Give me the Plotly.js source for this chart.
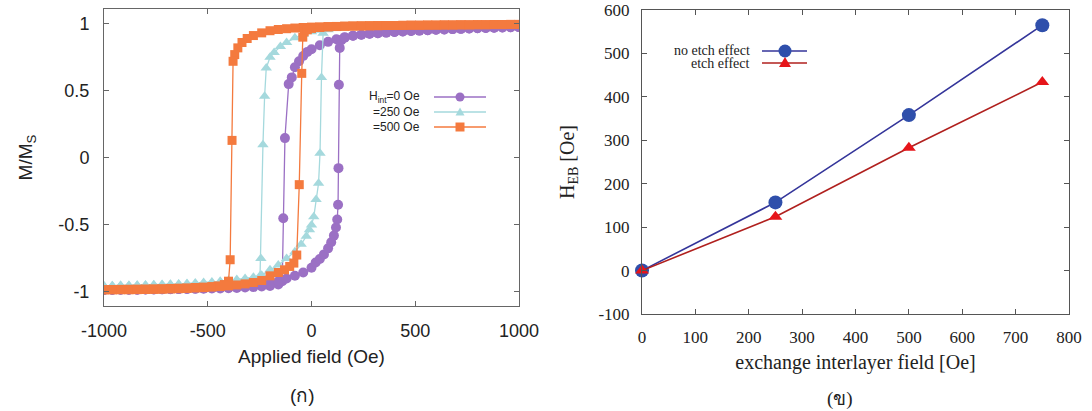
<!DOCTYPE html>
<html>
<head>
<meta charset="utf-8">
<script src="https://cdn.plot.ly/plotly-3.0.1.min.js"></script>
<style>html,body{margin:0;padding:0;background:#fff;}#chart{width:1092px;height:411px;}</style>
</head>
<body>
<div id="chart"></div>
<script>
// ---------- Left panel: hysteresis loops (descending branch then ascending branch) ----------
const field0 = [1000,960,920,880,840,800,760,720,680,640,600,560,520,480,440,400,360,320,280,240,
  200,160,120,80,40,0,-20,-40,-60,-80,-95,-110,-128,-136,-141,-160,
  -200,-240,-280,-320,-360,-400,-440,-480,-520,-560,-600,-640,-680,-720,-760,-800,-840,-880,-920,-960,-1000,
  -1000,-960,-920,-880,-840,-800,-760,-720,-680,-640,-600,-560,-520,-480,-440,-400,-360,-320,-280,-240,
  -200,-160,-120,-80,-40,0,20,40,60,80,95,108,118,124,128,130,132,136,145,160,
  200,240,280,320,360,400,440,480,520,560,600,640,680,720,760,800,840,880,920,960,1000];
const m0 = [.975,.974,.972,.97,.968,.966,.964,.962,.96,.957,.955,.952,.949,.946,.942,.938,.934,.93,.925,.918,
  .91,.9,.885,.865,.84,.81,.79,.76,.72,.675,.6,.55,.147,-.45,-.92,-.945,
  -.955,-.96,-.964,-.967,-.97,-.972,-.974,-.975,-.976,-.977,-.978,-.979,-.98,-.981,-.982,-.982,-.983,-.983,-.984,-.984,-.985,
  -.985,-.985,-.984,-.984,-.983,-.982,-.981,-.98,-.979,-.978,-.977,-.975,-.973,-.971,-.968,-.965,-.961,-.956,-.95,-.943,
  -.935,-.92,-.9,-.88,-.855,-.82,-.78,-.755,-.72,-.675,-.63,-.58,-.52,-.46,-.35,-.077,.545,.82,.88,.895,
  .91,.918,.925,.93,.934,.938,.942,.946,.949,.952,.955,.957,.96,.962,.964,.966,.968,.97,.972,.974,.975];

const field250 = [1000,960,920,880,840,800,760,720,680,640,600,560,520,480,440,400,360,320,280,240,200,160,120,80,
  40,0,-40,-80,-120,-150,-180,-200,-218,-226,-234,-244,-248,
  -280,-320,-360,-400,-440,-480,-520,-560,-600,-640,-680,-720,-760,-800,-840,-880,-920,-960,-1000,
  -1000,-960,-920,-880,-840,-800,-760,-720,-680,-640,-600,-560,-520,-480,-440,-400,-360,-320,-280,-240,-200,-160,
  -120,-80,-50,-25,-10,0,11,22,34,41,48,56,
  80,120,160,200,240,280,320,360,400,440,480,520,560,600,640,680,720,760,800,840,880,920,960,1000];
const m250 = [.99,.99,.989,.989,.988,.988,.987,.987,.986,.986,.985,.984,.984,.983,.982,.982,.981,.98,.979,.977,.975,.972,.968,.962,
  .952,.94,.92,.895,.86,.83,.785,.75,.67,.46,.097,-.75,-.88,
  -.9,-.91,-.918,-.924,-.929,-.933,-.936,-.939,-.941,-.943,-.945,-.947,-.948,-.95,-.951,-.952,-.953,-.954,-.955,
  -.955,-.954,-.953,-.952,-.95,-.948,-.946,-.944,-.942,-.94,-.937,-.934,-.93,-.926,-.921,-.915,-.908,-.9,-.89,-.875,-.835,-.8,
  -.75,-.7,-.645,-.585,-.537,-.5,-.44,-.31,-.19,.035,.6,.93,
  .955,.965,.972,.975,.977,.979,.98,.981,.982,.982,.983,.984,.984,.985,.986,.986,.987,.987,.988,.988,.989,.989,.99,.99];

const field500 = [1000,960,920,880,840,800,760,720,680,640,600,560,520,480,440,400,360,320,280,240,200,160,120,80,40,0,
  -40,-80,-120,-160,-200,-240,-280,-310,-335,-355,-370,-378,-383,-392,-400,-420,-450,
  -480,-520,-560,-600,-640,-680,-720,-760,-800,-840,-880,-920,-960,-1000,
  -1000,-960,-920,-880,-840,-800,-760,-720,-680,-640,-600,-560,-520,-480,-440,-400,-360,-320,-280,-240,
  -200,-160,-130,-105,-85,-71,-59,-47,-42,-35,-20,0,
  40,80,120,160,200,240,280,320,360,400,440,480,520,560,600,640,680,720,760,800,840,880,920,960,1000];
const m500 = [.995,.995,.994,.994,.993,.993,.992,.992,.991,.991,.99,.99,.989,.989,.988,.987,.987,.986,.985,.984,.983,.982,.98,.979,.977,.975,
  .972,.968,.963,.957,.948,.932,.912,.89,.86,.82,.77,.72,.13,-.76,-.92,-.945,-.955,
  -.96,-.964,-.967,-.97,-.972,-.974,-.976,-.977,-.978,-.979,-.98,-.981,-.982,-.983,
  -.985,-.985,-.984,-.984,-.983,-.982,-.981,-.98,-.978,-.976,-.974,-.971,-.968,-.964,-.96,-.955,-.948,-.94,-.93,-.915,
  -.88,-.855,-.835,-.81,-.785,-.725,-.2,.63,.9,.94,.955,.965,
  .972,.976,.979,.981,.983,.984,.985,.986,.987,.987,.988,.989,.989,.99,.99,.991,.991,.992,.992,.993,.993,.994,.994,.995,.995];

const loopNames = ["H<sub>int</sub>=0 Oe", "=250 Oe", "=500 Oe"];
const xTickVals1 = [-1000,-500,0,500,1000];
const xTickText1 = ["-1000","-500","0","500","1000"];
const yTickVals1 = [-1,-0.5,0,0.5,1];
const yTickText1 = ["-1","-0.5","0","0.5","1"];

// ---------- Right panel: exchange bias field ----------
const interlayerField = [0,250,500,750];
const hebNoEtch = [0,157,358,565];
const hebEtch = [0,124,283,434];
const seriesNames2 = ["no etch effect","etch effect"];
const xTickVals2 = [0,100,200,300,400,500,600,700,800];
const yTickVals2 = [-100,0,100,200,300,400,500,600];
const yTickText2 = ["-100","0","100","200","300","400","500","600"];

const cPurple = '#9b70c4', cCyan = '#a5d9dd', cOrange = '#f47a3e';
const cBlueM = '#2f4fab', cBlueL = '#34359a', cRedL = '#b0201e', cRedM = '#e6151a';

const sans = 'Liberation Sans, Arial, sans-serif';
const serif = 'Liberation Serif, Times New Roman, serif';

const traces = [
  {x: field0, y: m0, xaxis:'x', yaxis:'y', mode:'lines+markers', name: loopNames[0], showlegend:false,
   line:{color:cPurple, width:1.3}, marker:{symbol:'circle', size:10, color:cPurple}},
  {x: field250, y: m250, xaxis:'x', yaxis:'y', mode:'lines+markers', name: loopNames[1], showlegend:false,
   line:{color:cCyan, width:1.3}, marker:{symbol:'triangle-up', size:10, color:cCyan}},
  {x: field500, y: m500, xaxis:'x', yaxis:'y', mode:'lines+markers', name: loopNames[2], showlegend:false,
   line:{color:cOrange, width:1.3}, marker:{symbol:'square', size:9, color:cOrange}},
  {x: interlayerField, y: hebNoEtch, xaxis:'x2', yaxis:'y2', mode:'lines+markers', name: seriesNames2[0], showlegend:false,
   line:{color:cBlueL, width:1.6}, marker:{symbol:'circle', size:14, color:cBlueM}, cliponaxis:false},
  {x: interlayerField, y: hebEtch, xaxis:'x2', yaxis:'y2', mode:'lines+markers', name: seriesNames2[1], showlegend:false,
   line:{color:cRedL, width:1.6}, marker:{symbol:'triangle-up', size:12, color:cRedM}, cliponaxis:false}
];

const W = 1092, H = 411;
const px = v => v / W, py = v => 1 - v / H;

function axisBase(font, col) {
  return {ticks:'inside', ticklen:5, tickcolor:col, tickwidth:1, showline:true, linecolor:col, linewidth:1,
    mirror:'ticks', showgrid:false, zeroline:false, tickfont:{family:font, size:18, color:'#222'}, fixedrange:true};
}

const layout = {
  width: W, height: H, margin:{l:0,r:0,t:0,b:0}, paper_bgcolor:'#fff', plot_bgcolor:'#fff', showlegend:false,
  xaxis: Object.assign(axisBase(sans,'#666'), {domain:[px(104), px(519)], range:[-1000,1000], anchor:'y',
    tickmode:'array', tickvals:xTickVals1, ticktext:xTickText1, ticklabelstandoff:8,
    title:{text:'Applied field (Oe)', font:{family:sans, size:19, color:'#222'}, standoff:10}}),
  yaxis: Object.assign(axisBase(sans,'#666'), {domain:[py(306), py(9)], range:[-1.105,1.11], anchor:'x',
    tickmode:'array', tickvals:yTickVals1, ticktext:yTickText1, ticklabelstandoff:10,
    title:{text:'M/M<sub>S</sub>', font:{family:sans, size:19, color:'#222'}, standoff:20}}),
  xaxis2: Object.assign(axisBase(serif,'#555'), {domain:[px(642), px(1069)], range:[0,800], anchor:'y2',
    tickmode:'array', tickvals:xTickVals2, ticklabelstandoff:8,
    tickfont:{family:serif, size:17, color:'#222'},
    title:{text:'exchange interlayer field [Oe]', font:{family:serif, size:20, color:'#222'}, standoff:8}}),
  yaxis2: Object.assign(axisBase(serif,'#555'), {domain:[py(314), py(10)], range:[-100,600], anchor:'x2',
    tickmode:'array', tickvals:yTickVals2, ticktext:yTickText2, ticklabelstandoff:8,
    tickfont:{family:serif, size:17, color:'#222'},
    title:{text:'H<sub>EB</sub> [Oe]', font:{family:serif, size:20, color:'#222'}, standoff:18}}),
  annotations: [
    {xref:'paper', yref:'paper', x:px(422), y:py(97), xanchor:'right', yanchor:'middle', showarrow:false,
     text:loopNames[0], font:{family:sans, size:12, color:'#222'}},
    {xref:'paper', yref:'paper', x:px(422), y:py(112), xanchor:'right', yanchor:'middle', showarrow:false,
     text:loopNames[1], font:{family:sans, size:12, color:'#222'}},
    {xref:'paper', yref:'paper', x:px(422), y:py(127), xanchor:'right', yanchor:'middle', showarrow:false,
     text:loopNames[2], font:{family:sans, size:12, color:'#222'}},
    {xref:'paper', yref:'paper', x:px(752), y:py(51), xanchor:'right', yanchor:'middle', showarrow:false,
     text:seriesNames2[0], font:{family:serif, size:14, color:'#222'}},
    {xref:'paper', yref:'paper', x:px(752), y:py(63), xanchor:'right', yanchor:'middle', showarrow:false,
     text:seriesNames2[1], font:{family:serif, size:14, color:'#222'}},
    {xref:'paper', yref:'paper', x:px(302), y:py(395), xanchor:'center', yanchor:'middle', showarrow:false,
     text:'(ก)', font:{family:sans, size:19, color:'#222'}},
    {xref:'paper', yref:'paper', x:px(840), y:py(399), xanchor:'center', yanchor:'middle', showarrow:false,
     text:'(ข)', font:{family:serif, size:19, color:'#222'}}
  ],
  shapes: [
    {type:'line', xref:'paper', yref:'paper', x0:px(434), x1:px(486), y0:py(97), y1:py(97), line:{color:cPurple, width:1.3}},
    {type:'circle', xref:'paper', yref:'paper', xsizemode:'pixel', ysizemode:'pixel', xanchor:px(460), yanchor:py(97),
     x0:-4.5, x1:4.5, y0:-4.5, y1:4.5, fillcolor:cPurple, line:{width:0}},
    {type:'line', xref:'paper', yref:'paper', x0:px(434), x1:px(486), y0:py(112), y1:py(112), line:{color:cCyan, width:1.3}},
    {type:'path', xref:'paper', yref:'paper', xsizemode:'pixel', ysizemode:'pixel', xanchor:px(460), yanchor:py(112),
     path:'M-4.5,-3.5 L4.5,-3.5 L0,4.5 Z', fillcolor:cCyan, line:{width:0}},
    {type:'line', xref:'paper', yref:'paper', x0:px(434), x1:px(486), y0:py(127), y1:py(127), line:{color:cOrange, width:1.3}},
    {type:'rect', xref:'paper', yref:'paper', xsizemode:'pixel', ysizemode:'pixel', xanchor:px(460), yanchor:py(127),
     x0:-4.5, x1:4.5, y0:-4.5, y1:4.5, fillcolor:cOrange, line:{width:0}},
    {type:'line', xref:'paper', yref:'paper', x0:px(762), x1:px(807), y0:py(51), y1:py(51), line:{color:cBlueL, width:1.6}},
    {type:'circle', xref:'paper', yref:'paper', xsizemode:'pixel', ysizemode:'pixel', xanchor:px(785), yanchor:py(51),
     x0:-6.5, x1:6.5, y0:-6.5, y1:6.5, fillcolor:cBlueM, line:{width:0}},
    {type:'line', xref:'paper', yref:'paper', x0:px(762), x1:px(807), y0:py(63), y1:py(63), line:{color:cRedL, width:1.6}},
    {type:'path', xref:'paper', yref:'paper', xsizemode:'pixel', ysizemode:'pixel', xanchor:px(785), yanchor:py(63),
     path:'M-6,-4 L6,-4 L0,6 Z', fillcolor:cRedM, line:{width:0}}
  ]
};

Plotly.newPlot('chart', traces, layout, {displayModeBar:false, staticPlot:true});
</script>
</body>
</html>
